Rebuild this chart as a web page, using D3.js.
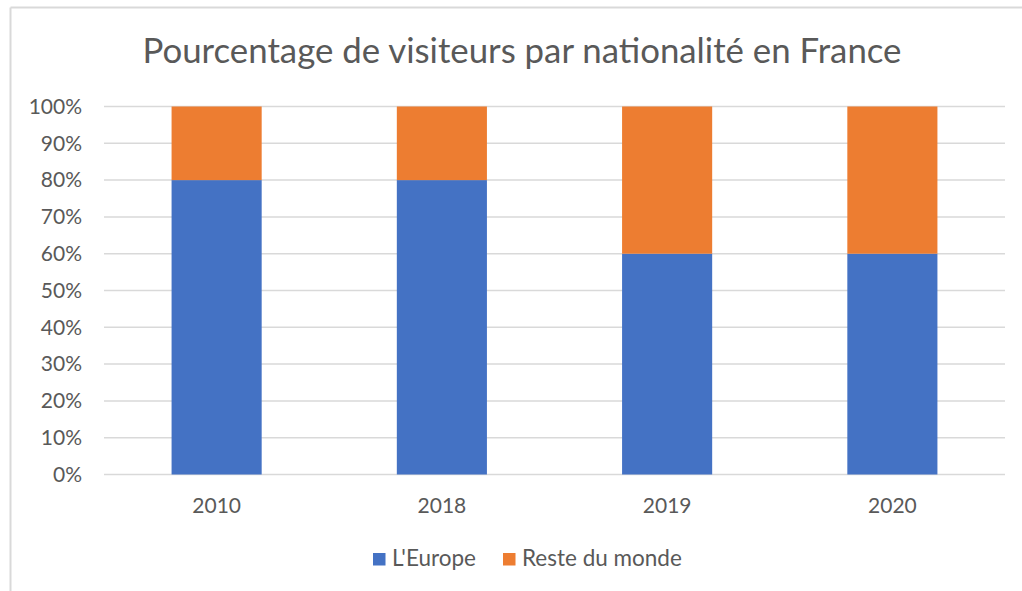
<!DOCTYPE html>
<html>
<head>
<meta charset="utf-8">
<script src="https://cdn.jsdelivr.net/npm/d3@7"></script>
<style>
  body { margin: 0; background: #fff; }
  text { font-family: Lato, "Open Sans", sans-serif; fill: #595959; }
</style>
</head>
<body>
<svg id="chart" width="1022" height="591"></svg>
<script>
const years = ["2010", "2018", "2019", "2020"];
const europe = [0.8, 0.8, 0.6, 0.6];
const resteDuMonde = [0.2, 0.2, 0.4, 0.4];
const seriesNames = ["L'Europe", "Reste du monde"];
const seriesColors = ["#4472C4", "#ED7D31"];
const yTicks = [0, 0.1, 0.2, 0.3, 0.4, 0.5, 0.6, 0.7, 0.8, 0.9, 1];

const svg = d3.select("#chart");

// chart frame (only top and left edges show in the crop)
svg.append("line")
  .attr("x1", 10.5).attr("y1", 7.5).attr("x2", 1022).attr("y2", 7.5)
  .attr("stroke", "#d9d9d9").attr("stroke-width", 2)
svg.append("line")
  .attr("x1", 10.5).attr("y1", 7.5).attr("x2", 10.5).attr("y2", 591)
  .attr("stroke", "#d9d9d9").attr("stroke-width", 2)

svg.append("text")
  .attr("x", 522).attr("y", 63)
  .attr("text-anchor", "middle")
  .attr("font-size", 34.8)
  .text("Pourcentage de visiteurs par nationalité en France")

const x = d3.scaleBand()
  .domain(years)
  .range([104, 1005])
  .paddingInner(0.6)
  .paddingOuter(0.3)

const y = d3.scaleLinear()
  .domain([0, 1])
  .range([474.5, 106.5])

// gridlines
svg.append("g")
  .selectAll("line").data(yTicks)
  .join("line")
  .attr("x1", 104).attr("x2", 1005)
  .attr("y1", d => y(d)).attr("y2", d => y(d))
  .attr("stroke", "#d9d9d9").attr("stroke-width", 1.5)

// y axis labels
const yAxis = svg.append("g")
  .attr("transform", "translate(82,0)")
  .call(d3.axisLeft(y).tickValues(yTicks).tickFormat(d3.format(".0%")).tickSize(0).tickPadding(0))
yAxis.select(".domain").remove()
yAxis.selectAll("text")
  .attr("font-size", 21)
  .attr("font-family", "Lato, 'Open Sans', sans-serif")
  .attr("fill", "#595959")

// x axis labels
const xAxis = svg.append("g")
  .attr("transform", "translate(0,498)")
  .call(d3.axisBottom(x).tickSize(0).tickPadding(0))
xAxis.select(".domain").remove()
xAxis.selectAll("text")
  .attr("font-size", 21)
  .attr("font-family", "Lato, 'Open Sans', sans-serif")
  .attr("fill", "#595959")

// stacked bars
const rows = years.map((yr, i) => ({year: yr, europe: europe[i], reste: resteDuMonde[i]}))
const stacked = d3.stack().keys(["europe", "reste"])(rows)

svg.append("g")
  .selectAll("g").data(stacked)
  .join("g")
  .attr("fill", (d, i) => seriesColors[i])
  .selectAll("rect").data(d => d)
  .join("rect")
  .attr("x", d => x(d.data.year))
  .attr("width", x.bandwidth())
  .attr("y", d => y(d[1]))
  .attr("height", d => y(d[0]) - y(d[1]))

// legend
const legendItems = [
  {name: seriesNames[0], color: seriesColors[0], x: 373},
  {name: seriesNames[1], color: seriesColors[1], x: 503},
]
const legend = svg.append("g").selectAll("g").data(legendItems)
  .join("g")
  .attr("transform", d => `translate(${d.x},553)`)
legend.append("rect")
  .attr("width", 12.5).attr("height", 12.5)
  .attr("fill", d => d.color)
legend.append("text")
  .attr("x", 19).attr("y", 13)
  .attr("font-size", 22.5)
  .text(d => d.name)
</script>
</body>
</html>
